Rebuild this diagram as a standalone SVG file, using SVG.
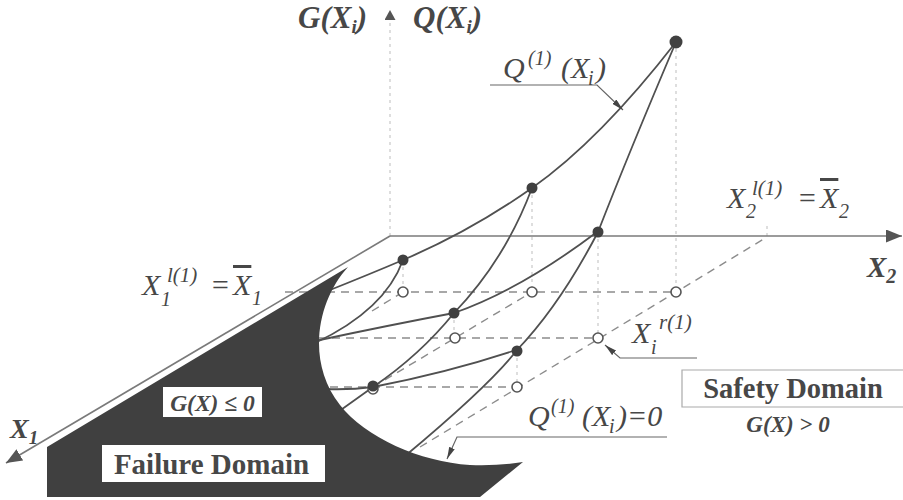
<svg xmlns="http://www.w3.org/2000/svg" width="903" height="500" viewBox="0 0 903 500">
<style>
.ax{stroke:#7a7a7a;stroke-width:1.6;fill:none}
.cv{stroke:#505050;stroke-width:1.8;fill:none}
.dh{stroke:#8c8c8c;stroke-width:1.4;stroke-dasharray:8 6;fill:none}
.dv{stroke:#bdbdbd;stroke-width:1;stroke-dasharray:3 4;fill:none}
.fd{fill:#404040}
.od{fill:#fff;stroke:#555;stroke-width:1.6}
.ld{stroke:#666;stroke-width:1.2;fill:none}
.t{font-family:"Liberation Serif","Times New Roman",serif;fill:#474747}
.bi{font-weight:bold;font-style:italic}
.i{font-style:italic}
.b{font-weight:bold}
.ov{text-decoration:overline}
.sm{font-size:20px}
</style>
<defs>
<marker id="axArr" viewBox="0 0 16 13" refX="16" refY="6.5" markerWidth="16" markerHeight="13" markerUnits="userSpaceOnUse" orient="auto"><path d="M0,0 L16,6.5 L0,13 Z" fill="#555"/></marker>
<marker id="upArr" viewBox="0 0 10 11" refX="10" refY="5.5" markerWidth="10" markerHeight="11" markerUnits="userSpaceOnUse" orient="auto"><path d="M0,0 L10,5.5 L0,11 Z" fill="#555"/></marker>
<marker id="ldArr" viewBox="0 0 12 6" refX="12" refY="3" markerWidth="12" markerHeight="6" markerUnits="userSpaceOnUse" orient="auto"><path d="M0,0 L12,3 L0,6 Z" fill="#444"/></marker>
</defs>

<g id="grid">
<path class="dv" d="M390,236 V22"/>
<path class="dv" d="M676,42 V292 M532,188 V292 M598,232 V338 M403,260 V292 M454,313 V338 M517,351 V387 M767,226 V236"/>
<path class="dh" d="M285,292 H672 M318,338 H593 M330,387 H512"/>
<path class="dh" d="M372,311 L403,292 M373,387 L532,292 M420,447 L767,237"/>
</g>

<g id="axes">
<line x1="390" y1="30" x2="390" y2="10" style="stroke:none" marker-end="url(#upArr)"/>
<line class="ax" x1="390" y1="236" x2="902" y2="236" marker-end="url(#axArr)"/>
<line class="ax" x1="390" y1="236" x2="6" y2="463" marker-end="url(#axArr)"/>
</g>

<g id="connectors">
<path class="cv" d="M676,42 Q600,140 532,188 Q471,231 403,260 Q369,274.5 325,292"/>
<path class="cv" d="M676,42 Q630,150 598,232 Q560,305 517,350 Q490,385 405,456"/>
<path class="cv" d="M532,188 Q505,260 454,313 Q420,355 373,387 L338,412"/>
<path class="cv" d="M403,260 Q385,310 315,343"/>
<path class="cv" d="M597,232 Q520,290 454,313 Q390,325 315,341"/>
<path class="cv" d="M516,350 Q450,372 373,387 Q350,390 325,389"/>
</g>

<g id="failure-domain">
<path class="fd" d="M348,267 C318,300 305,360 340,405 C365,437 420,462 470,465 Q500,466 523,462 L480,497 L47,497 L47,447 Z"/>
<rect x="163" y="387" width="99" height="30" fill="#fff"/>
<text class="t bi" x="212.5" y="411" font-size="23.5" text-anchor="middle">G(X) ≤ 0</text>
<rect x="102" y="445" width="223" height="37" fill="#fff"/>
<text class="t b" x="211.5" y="474" font-size="29" text-anchor="middle">Failure Domain</text>
</g>

<g id="points">
<circle class="od" cx="403" cy="292" r="5"/>
<circle class="od" cx="532" cy="292" r="5"/>
<circle class="od" cx="676" cy="292" r="5"/>
<circle class="od" cx="455" cy="338" r="5"/>
<circle class="od" cx="598" cy="338" r="5"/>
<circle class="od" cx="517" cy="387" r="5"/>
<circle class="od" cx="373" cy="389" r="5"/>
<circle class="fd" cx="676" cy="42" r="6.5"/>
<circle class="fd" cx="532" cy="188" r="5.5"/>
<circle class="fd" cx="598" cy="232" r="5.5"/>
<circle class="fd" cx="403" cy="260" r="5.5"/>
<circle class="fd" cx="454" cy="313" r="5.5"/>
<circle class="fd" cx="517" cy="351" r="5.5"/>
<circle class="fd" cx="373" cy="386" r="5.5"/>
</g>

<g id="leaders">
<polyline class="ld" points="490,85 597,85 623,110" marker-end="url(#ldArr)"/>
<polyline class="ld" points="697,358 620,358 605,345" marker-end="url(#ldArr)"/>
<polyline class="ld" points="667,437 457,437 447,459" marker-end="url(#ldArr)"/>
</g>

<g id="labels">
<text class="t bi" x="298" y="28" font-size="31">G(X<tspan dy="5" font-size="19">i</tspan><tspan dy="-5">)</tspan></text>
<text class="t bi" x="413" y="28" font-size="31">Q(X<tspan dy="5" font-size="19">i</tspan><tspan dy="-5">)</tspan></text>
<text class="t i" x="503" y="78" font-size="30">Q<tspan x="528" y="65" class="sm">(1)</tspan><tspan x="561" y="78">(X</tspan><tspan x="588" y="85" class="sm">i</tspan><tspan x="596" y="78">)</tspan></text>
<text class="t i" x="727" y="208" font-size="30">X<tspan x="746" y="218" class="sm">2</tspan><tspan x="752" y="195" font-size="21">l(1)</tspan><tspan x="797" y="208">=</tspan><tspan x="820" y="208" class="ov">X</tspan><tspan x="839" y="218" class="sm">2</tspan></text>
<text class="t bi" x="867" y="277" font-size="29">X<tspan dy="6" font-size="20">2</tspan></text>
<text class="t i" x="142" y="295" font-size="30">X<tspan x="161" y="306" class="sm">1</tspan><tspan x="167" y="282" font-size="21">l(1)</tspan><tspan x="210" y="295">=</tspan><tspan x="233" y="295" class="ov">X</tspan><tspan x="252" y="305" class="sm">1</tspan></text>
<text class="t bi" x="10" y="438" font-size="28">X<tspan dy="6" font-size="19">1</tspan></text>
<text class="t i" x="632" y="343" font-size="30">X<tspan x="651" y="354" class="sm">i</tspan><tspan x="659" y="329" font-size="21">r(1)</tspan></text>
<text class="t i" x="528" y="426" font-size="30">Q<tspan x="551" y="413" class="sm">(1)</tspan><tspan x="582" y="426">(X</tspan><tspan x="609" y="433" class="sm">i</tspan><tspan x="617" y="426">)=0</tspan></text>
</g>

<g id="safety-domain">
<path class="ld" d="M903,370 H682 V407 H903" style="stroke:#aaa"/>
<text class="t b" x="793" y="398" font-size="28.5" text-anchor="middle">Safety Domain</text>
<text class="t bi" x="788" y="432" font-size="23" text-anchor="middle">G(X) &gt; 0</text>
</g>
</svg>
